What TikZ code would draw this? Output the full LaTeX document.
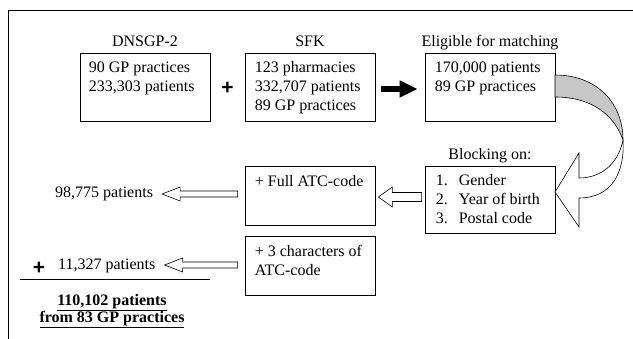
\documentclass[tikz,border=0pt]{standalone}
\usepackage{fontspec}
\setmainfont{Liberation Serif}
\newfontfamily\plusfont{Liberation Sans}
\usetikzlibrary{positioning,calc,arrows.meta}

\tikzset{
  box/.style={draw, line width=0.7pt, minimum width=130pt, minimum height=68pt, inner sep=0pt},
  boxtext/.style={anchor=north west, inner sep=0pt, align=left, font=\fontsize{16}{19}\selectfont},
  title/.style={anchor=base, inner sep=0pt, font=\fontsize{16}{19}\selectfont},
  plain/.style={inner sep=0pt, font=\fontsize{16}{19}\selectfont},
  plus/.style={inner sep=0pt, font=\plusfont\fontsize{21}{21}\bfseries\selectfont},
  hollow/.style={draw, line width=0.6pt, fill=white},
}

% hollow arrow pointing left: start, tip, shaft half, head half, head length
\newcommand\hollowarrow[5]{%
  \draw[hollow] let \p1=#1, \p2=#2 in
    (\x1,\y1+#3) -- (\x2+#5,\y1+#3) -- (\x2+#5,\y1+#4) -- (\x2,\y1)
    -- (\x2+#5,\y1-#4) -- (\x2+#5,\y1-#3) -- (\x1,\y1-#3) -- cycle;}

\begin{document}
\begin{tikzpicture}[x=1pt, y=-1pt]
\useasboundingbox (0,0) rectangle (633,339);
% frame
\draw[line width=0.8pt] (8,339) -- (8,10) -- (633,10);

% sources and eligible patients
\node[box] (dns) at (145,87) {};
\node[box] (sfk) at (310,87) {};
\node[box] (elig) at (490,87) {};
\node[title] (dnstitle) at ($(dns.north)+(0,-6)$) {DNSGP-2};
\node[title] (sfktitle) at ($(sfk.north)+(0,-6)$) {SFK};
\node[title] (eligtitle) at ($(elig.north)+(0,-6)$) {Eligible for matching};
\node[boxtext] (dnstext) at ($(dns.north west)+(9,6)$) {\strut 90 GP practices\\233,303 patients};
\node[boxtext] (sfktext) at ($(sfk.north west)+(10,6)$) {\strut 123 pharmacies\\332,707 patients\\89 GP practices};
\node[boxtext] (eligtext) at ($(elig.north west)+(10,6)$) {\strut 170,000 patients\\89 GP practices};
\node[plus] (plus1) at ($(dns.east)!0.5!(sfk.west)+(0,1)$) {+};
\draw[line width=6pt, -{Triangle[length=18pt, width=16pt]}] ($(sfk.east)+(6,2)$) -- ($(elig.west)+(-7,2)$);

% matching steps
\node[box, minimum height=67pt] (block) at (490,199.5) {};
\node[box, minimum height=59pt] (full) at (310,195.5) {};
\node[box, minimum height=59pt] (three) at (310,265.5) {};
\node[title] (blocktitle) at ($(block.north)+(0,-6)$) {Blocking on:};
\node[boxtext] (blocktext) at ($(block.north west)+(11,6)$)
  {\begin{tabular}{@{}l@{\hspace{11pt}}l@{}}1.&Gender\\2.&Year of birth\\3.&Postal code\end{tabular}};
\node[boxtext] (fulltext) at ($(full.north west)+(10,7)$) {\strut + Full ATC-code};
\node[boxtext] (threetext) at ($(three.north west)+(10,7)$) {\strut + 3 characters of\\ATC-code};

% curved arrow
\draw[line width=0.6pt, fill=white] (623,140) .. controls (618,165) and (600,178) .. (579,178)
  -- (579,153) -- (555,192) -- (579,227) -- (579,198) .. controls (612,198) and (625,172) .. (623,140);
\draw[line width=0.6pt, fill=black!22] (555,75) .. controls (597,75) and (623,103) .. (623,140)
  .. controls (614,115) and (592,97) .. (555,97) -- cycle;

% results
\node[plain, anchor=base west] (fullcount) at (55,198) {98,775 patients};
\node[plain, anchor=base west] (partcount) at (58,270) {11,327 patients};
\hollowarrow{($(block.west)+(-3,-2.5)$)}{($(full.east)+(3,0)$)}{4.5pt}{10pt}{14pt}
\hollowarrow{($(full.west)+(-7,-1.5)$)}{($(fullcount.east)+(9,0)$)}{3pt}{7pt}{18pt}
\hollowarrow{($(three.west)+(-7,-0.5)$)}{($(partcount.east)+(9,0)$)}{3pt}{7pt}{18pt}
\node[plus] (plus2) at (39,268) {+};
\draw[line width=0.7pt] (20,279) -- (210,279);
\node[inner sep=0pt, anchor=north, align=center, font=\fontsize{16}{17}\bfseries\selectfont] (total) at (112,293)
  {\strut\underline{110,102 patients}\\\underline{from 83 GP practices}};
\end{tikzpicture}
\end{document}
